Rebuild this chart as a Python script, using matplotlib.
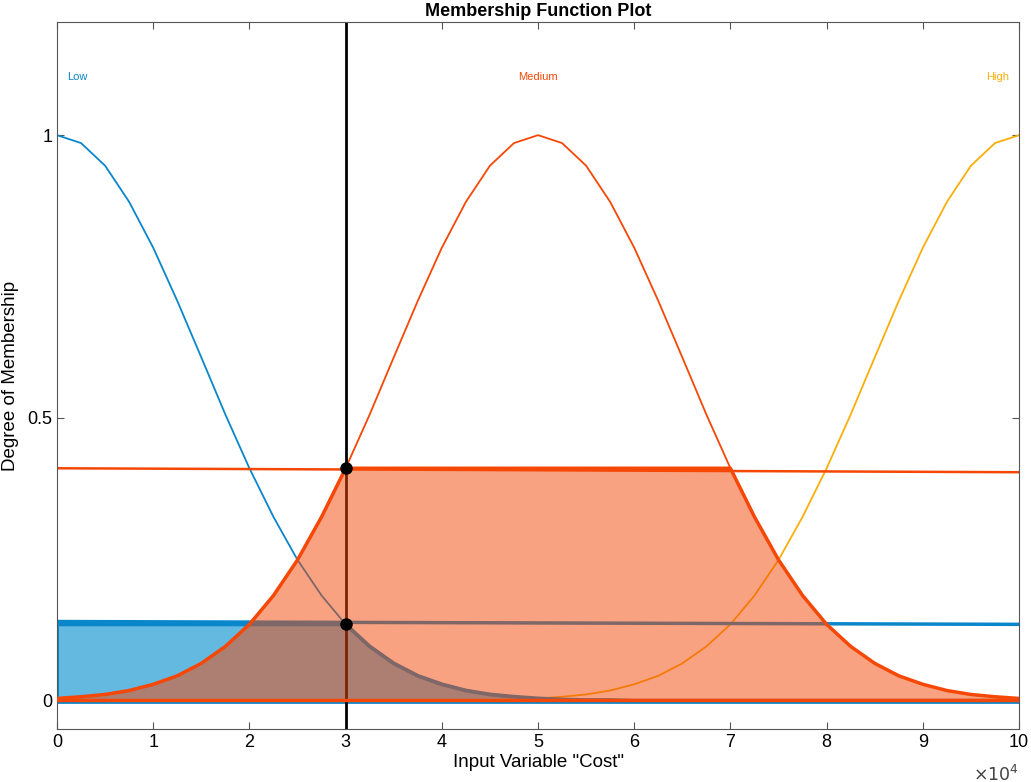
import numpy as np
import matplotlib.pyplot as plt

# x in units of 10^4, sampled every 0.25
x = np.arange(0, 10.01, 0.25)

# values (Low falls from 1 at 0 towards 0 at ~6)
low_half = [1.0, 0.986, 0.946, 0.882, 0.801, 0.707, 0.607, 0.506, 0.411,
            0.325, 0.249, 0.186, 0.135, 0.096, 0.066, 0.044, 0.029, 0.018,
            0.011, 0.007, 0.004]
tail = [0.002, 0.001, 0.001, 0.0, 0.0, 0.0, 0.0, 0.0, 0.0, 0.0, 0.0, 0.0,
        0.0, 0.0, 0.0, 0.0, 0.0, 0.0, 0.0, 0.0]

low = np.array(low_half + tail)
medium = np.array(low_half[::-1] + low_half[1:])
high = low[::-1]

names = ["Low", "Medium", "High"]
label_x = [0.1, 5.0, 9.9]
input_x = 3.0
low_level = 0.135
med_level = 0.411

c_low = "#0A86CB"
c_med = "#F54705"
c_high = "#F9AE0A"

plt.rcParams['font.family'] = ['Liberation Sans', 'DejaVu Sans']
fig = plt.figure(figsize=(10.31, 7.82), dpi=100)
ax = fig.add_axes([0.0553, 0.0678, 0.9331, 0.904])

ax.plot(x, low, color=c_low, lw=1.3)
ax.plot(x, medium, color=c_med, lw=1.3)
ax.plot(x, high, color=c_high, lw=1.3)

# rule levels
ax.plot([0, 10], [med_level, med_level - 0.007], color=c_med, lw=1.8)
ax.plot([0, 10], [low_level + 0.005, low_level], color=c_low, lw=2.5)
ax.plot([0, 10], [-0.002, -0.002], color=c_low, lw=2)

ax.axvline(input_x, color="black", lw=2)

# clipped outputs
low_cut = np.minimum(low, low_level)
med_cut = np.minimum(medium, med_level)
ax.fill_between(x, 0, low_cut, color="#64B9E1", lw=0)
ax.plot(np.r_[0, x], np.r_[0, low_cut], color=c_low, lw=2.8)
ax.fill_between(x, 0, med_cut, color=c_med, alpha=0.5, lw=0, zorder=3)
ax.plot(x, med_cut, color=c_med, lw=2.5, zorder=3)
ax.plot([0, 10], [0.002, 0.002], color=c_med, lw=2.5, zorder=3)

ax.plot([input_x, input_x], [med_level, low_level], "o", color="black",
        ms=8, zorder=5)

for name, lx, c, ha in zip(names, label_x, [c_low, c_med, c_high],
                           ["left", "center", "right"]):
    ax.text(lx, 1.103, name, color=c, fontsize=8, ha=ha, va="center")

ax.set_xlim(0, 10)
ax.set_ylim(-0.05, 1.2)
ax.set_xticks(range(0, 11))
ax.set_yticks([0, 0.5, 1])
ax.set_yticklabels(["0", "0.5", "1"])
ax.tick_params(direction="in", top=True, right=True, labelsize=13,
               length=5, color="#555555")
for s in ax.spines.values():
    s.set_color("#555555")
ax.set_title("Membership Function Plot", fontsize=13, fontweight="bold",
             pad=4)
ax.set_xlabel('Input Variable "Cost"', fontsize=13.5, labelpad=2)
ax.set_ylabel("Degree of Membership", fontsize=13.5, labelpad=6)
ax.text(1.0, -0.063, r"$\times10^4$", transform=ax.transAxes, ha="right",
        va="center", fontsize=12.5, color="#444444")

fig.savefig("out.png", dpi=100)
